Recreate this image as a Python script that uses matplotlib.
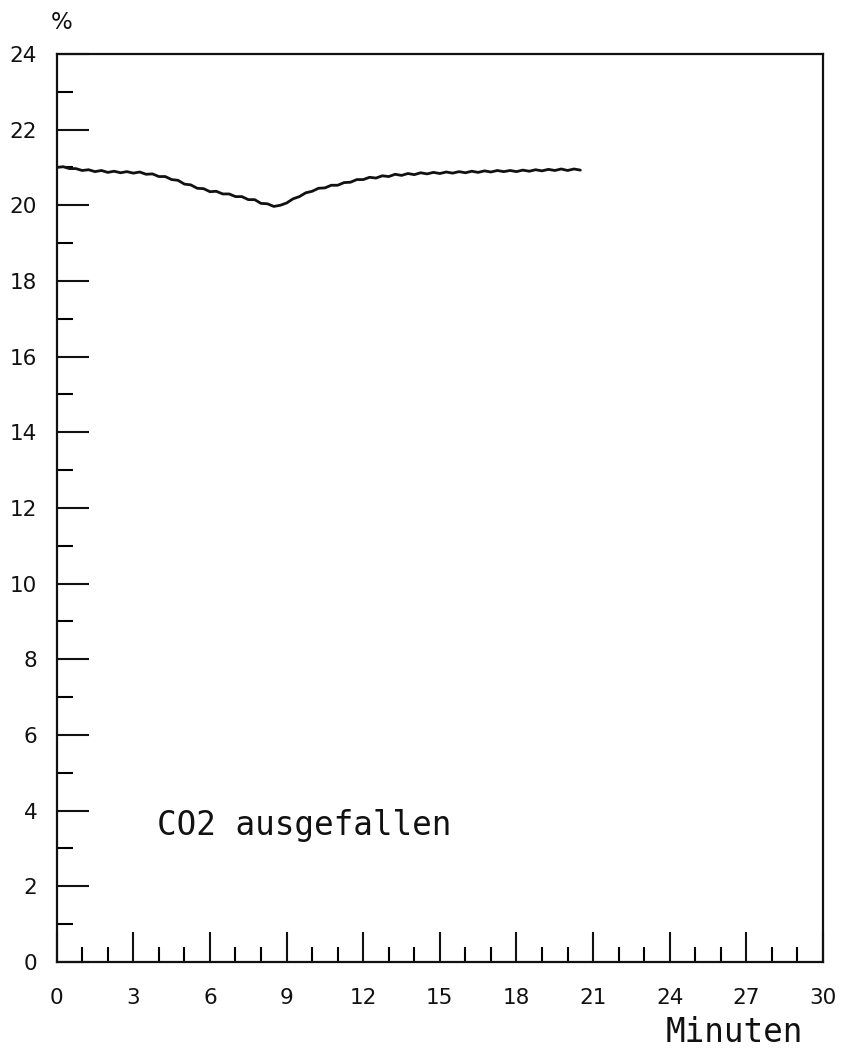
import matplotlib.pyplot as plt
from matplotlib.ticker import MultipleLocator

# --- data ---
minutes = [
    0.00, 0.25, 0.50, 0.75, 1.00, 1.25, 1.50, 1.75, 2.00, 2.25,
    2.50, 2.75, 3.00, 3.25, 3.50, 3.75, 4.00, 4.25, 4.50, 4.75,
    5.00, 5.25, 5.50, 5.75, 6.00, 6.25, 6.50, 6.75, 7.00, 7.25,
    7.50, 7.75, 8.00, 8.25, 8.50, 8.75, 9.00, 9.25, 9.50, 9.75,
    10.00, 10.25, 10.50, 10.75, 11.00, 11.25, 11.50, 11.75, 12.00, 12.25,
    12.50, 12.75, 13.00, 13.25, 13.50, 13.75, 14.00, 14.25, 14.50, 14.75,
    15.00, 15.25, 15.50, 15.75, 16.00, 16.25, 16.50, 16.75, 17.00, 17.25,
    17.50, 17.75, 18.00, 18.25, 18.50, 18.75, 19.00, 19.25, 19.50, 19.75,
    20.00, 20.25, 20.50,
]
percent = [
    21.00, 21.02, 20.97, 20.97, 20.92, 20.94, 20.89, 20.92, 20.87, 20.90,
    20.86, 20.89, 20.85, 20.88, 20.82, 20.83, 20.76, 20.76, 20.68, 20.66,
    20.56, 20.54, 20.45, 20.44, 20.36, 20.37, 20.30, 20.30, 20.23, 20.23,
    20.15, 20.15, 20.05, 20.04, 19.97, 20.00, 20.06, 20.17, 20.23, 20.33,
    20.37, 20.45, 20.46, 20.53, 20.53, 20.60, 20.61, 20.68, 20.68, 20.74,
    20.72, 20.78, 20.76, 20.82, 20.79, 20.84, 20.81, 20.86, 20.83, 20.87,
    20.84, 20.88, 20.85, 20.89, 20.86, 20.90, 20.87, 20.91, 20.88, 20.92,
    20.89, 20.92, 20.89, 20.93, 20.90, 20.94, 20.91, 20.95, 20.92, 20.96,
    20.92, 20.96, 20.93,
]
x_ticks = [0, 3, 6, 9, 12, 15, 18, 21, 24, 27, 30]
y_ticks = [0, 2, 4, 6, 8, 10, 12, 14, 16, 18, 20, 22, 24]

NOTE = "CO2 ausgefallen"
X_LABEL = "Minuten"
Y_UNIT = "%"

INK = '#111111'
LABEL_SIZE = 15.5
TEXT_SIZE = 23.5


def plot():
    fig = plt.figure(figsize=(8.41, 10.52), dpi=100)
    ax = fig.add_axes([0.0674, 0.0856, 0.9112, 0.8631])

    ax.plot(minutes, percent, color=INK, linewidth=2.0, solid_capstyle='round')

    ax.set_xlim(0, 30)
    ax.set_ylim(0, 24)
    ax.set_xticks(x_ticks)
    ax.set_yticks(y_ticks)
    ax.xaxis.set_minor_locator(MultipleLocator(1))
    ax.yaxis.set_minor_locator(MultipleLocator(1))

    ax.tick_params(axis='x', which='major', direction='in', length=21.5, width=1.5,
                   pad=19, labelsize=LABEL_SIZE, colors=INK)
    ax.tick_params(axis='x', which='minor', direction='in', length=10.5, width=1.5)
    ax.tick_params(axis='y', which='major', direction='in', length=23, width=1.5,
                   pad=14, labelsize=LABEL_SIZE, colors=INK)
    ax.tick_params(axis='y', which='minor', direction='in', length=11.5, width=1.5)

    for side in ax.spines.values():
        side.set_linewidth(1.6)
        side.set_color(INK)

    # annotation + unit labels
    ax.text(3.93, 3.36, NOTE, fontsize=TEXT_SIZE, family='DejaVu Sans Mono',
            color=INK, ha='left', va='baseline')
    fig.text(0.9545, 0.003, X_LABEL, fontsize=TEXT_SIZE, family='DejaVu Sans Mono',
             color=INK, ha='right', va='bottom')
    fig.text(0.0737, 0.979, Y_UNIT, fontsize=LABEL_SIZE + 1, color=INK,
             ha='center', va='center')

    fig.savefig("out.png", dpi=100, facecolor='white')


if __name__ == "__main__":
    plot()
